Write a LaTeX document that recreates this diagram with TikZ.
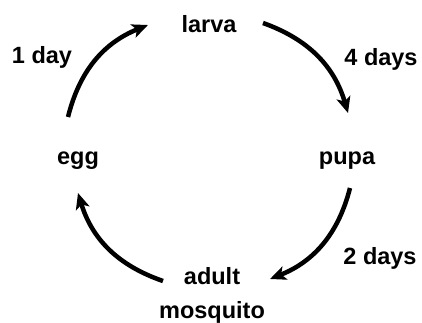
\documentclass[tikz,border=0pt]{standalone}
\usepackage{fontspec}
\setmainfont{Liberation Sans}
\usetikzlibrary{arrows.meta}
\begin{document}
\begin{tikzpicture}[x=1pt,y=1pt,
  lbl/.style={font=\bfseries\fontsize{23.5}{34}\selectfont, inner sep=0pt, align=center},
  cyc/.style={line width=4.5pt, -{Stealth[length=16pt,width=14pt,inset=4pt]}, bend left=27}]
\useasboundingbox (0,0) rectangle (422,322);
\node[lbl] (larva) at (209,298) {larva};
\node[lbl] (egg) at (78,161) {egg};
\node[lbl] (pupa) at (347,161) {pupa};
\node[lbl] (adult) at (212,27) {adult\\mosquito};
\node[lbl] (d1) at (42,265) {1 day};
\node[lbl] (d4) at (381,263) {4 days};
\node[lbl] (d2) at (380,64) {2 days};
\coordinate (a1) at (68,205);
\coordinate (a2) at (148,297);
\coordinate (b1) at (263,299);
\coordinate (b2) at (348,209);
\coordinate (c1) at (350,134);
\coordinate (c2) at (270,43);
\coordinate (e1) at (163,41);
\coordinate (e2) at (78,129);
\draw[cyc] (a1) to (a2);
\draw[cyc] (b1) to (b2);
\draw[cyc] (c1) to (c2);
\draw[cyc] (e1) to (e2);
\end{tikzpicture}
\end{document}
